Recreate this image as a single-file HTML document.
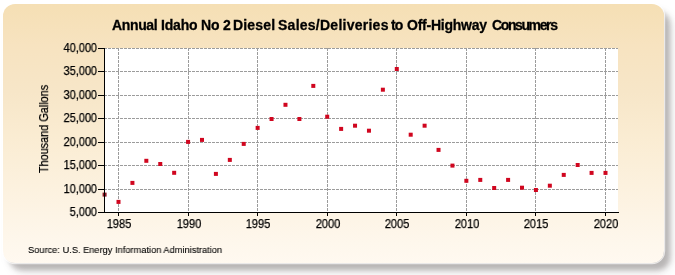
<!DOCTYPE html>
<html><head><meta charset="utf-8"><style>
.tw,.yl,.xl,.ylab span,.src{will-change:transform;}
.yl,.xl,.ylab span{-webkit-text-stroke:0.25px #000;color:#000 !important;}
html,body{margin:0;padding:0;width:675px;height:275px;overflow:hidden;background:#fff;position:relative;font-family:"Liberation Sans",sans-serif;}
#panel{position:absolute;left:3px;top:3.8px;width:661px;height:259.7px;border-radius:12px;
background:linear-gradient(180deg,#f5dfb4 0%,#f7e3c0 16%,#f7e6c8 34%,#faecd2 51%,#fcf1de 70%,#fef7ec 92%,#fff9f0 100%);filter:blur(0.7px);box-shadow:0 0 0 1.2px rgba(255,255,255,0.7);}
#shadow{position:absolute;left:9px;top:10.5px;width:661px;height:259px;border-radius:13px;background:rgba(40,35,30,0.24);filter:blur(2.5px);}
#shadow2{position:absolute;left:10px;top:12px;width:662px;height:261px;border-radius:16px;background:rgba(40,35,40,0.12);filter:blur(5px);}
.tw{position:absolute;top:15px;line-height:20px;font-weight:bold;font-size:14px;color:#000;-webkit-text-stroke:0.3px #000;white-space:nowrap;transform-origin:0 0;}
.yl{position:absolute;left:40px;width:57px;text-align:right;font-size:12px;line-height:15px;color:#111;transform:scaleX(0.91);transform-origin:100% 50%;}
.xl{position:absolute;top:216.8px;width:40px;text-align:center;font-size:12px;line-height:15px;color:#111;transform:scaleX(0.92);transform-origin:50% 50%;}
.ylab{position:absolute;left:43.7px;top:128.6px;width:0;height:0;}
.ylab span{position:absolute;left:0;top:0;transform:translate(-50%,-50%) rotate(-90deg) scaleX(0.905);white-space:nowrap;font-size:12px;color:#111;}
.src{position:absolute;left:28.2px;top:240px;line-height:20px;font-size:9.5px;color:#000;-webkit-text-stroke:0.12px #000;white-space:nowrap;transform:scaleX(0.975);transform-origin:0 0;}
svg{position:absolute;left:0;top:0;}
</style></head><body>
<div id="shadow2"></div><div id="shadow"></div><div id="panel"></div>
<svg width="675" height="275">
<rect x="104" y="48" width="514" height="164" fill="#fff"/>
<g stroke="#9c9c9c" stroke-width="1" stroke-dasharray="3,1" shape-rendering="crispEdges">
<line x1="104" y1="189.5" x2="618" y2="189.5"/><line x1="104" y1="165.5" x2="618" y2="165.5"/><line x1="104" y1="142.5" x2="618" y2="142.5"/><line x1="104" y1="118.5" x2="618" y2="118.5"/><line x1="104" y1="95.5" x2="618" y2="95.5"/><line x1="104" y1="71.5" x2="618" y2="71.5"/><line x1="104" y1="48.5" x2="618" y2="48.5"/><line x1="118.5" y1="48" x2="118.5" y2="212"/><line x1="188.5" y1="48" x2="188.5" y2="212"/><line x1="257.5" y1="48" x2="257.5" y2="212"/><line x1="327.5" y1="48" x2="327.5" y2="212"/><line x1="396.5" y1="48" x2="396.5" y2="212"/><line x1="466.5" y1="48" x2="466.5" y2="212"/><line x1="535.5" y1="48" x2="535.5" y2="212"/><line x1="605.5" y1="48" x2="605.5" y2="212"/>
</g>
<g fill="#d0061f"><rect x="102.59" y="192.60" width="4.0" height="4.0" fill="#8c1722"/><rect x="116.50" y="199.90" width="4.0" height="4.0"/><rect x="130.42" y="180.90" width="4.0" height="4.0"/><rect x="144.33" y="158.80" width="4.0" height="4.0"/><rect x="158.25" y="162.00" width="4.0" height="4.0"/><rect x="172.16" y="170.80" width="4.0" height="4.0"/><rect x="186.07" y="139.90" width="4.0" height="4.0"/><rect x="199.99" y="137.90" width="4.0" height="4.0"/><rect x="213.90" y="171.90" width="4.0" height="4.0"/><rect x="227.82" y="157.90" width="4.0" height="4.0"/><rect x="241.73" y="141.90" width="4.0" height="4.0"/><rect x="255.64" y="125.90" width="4.0" height="4.0"/><rect x="269.56" y="117.00" width="4.0" height="4.0"/><rect x="283.47" y="102.80" width="4.0" height="4.0"/><rect x="297.39" y="117.00" width="4.0" height="4.0"/><rect x="311.30" y="83.90" width="4.0" height="4.0"/><rect x="325.21" y="114.70" width="4.0" height="4.0"/><rect x="339.13" y="126.90" width="4.0" height="4.0"/><rect x="353.04" y="123.70" width="4.0" height="4.0"/><rect x="366.96" y="128.70" width="4.0" height="4.0"/><rect x="380.87" y="87.70" width="4.0" height="4.0"/><rect x="394.78" y="67.00" width="4.0" height="4.0"/><rect x="408.70" y="132.70" width="4.0" height="4.0"/><rect x="422.61" y="123.70" width="4.0" height="4.0"/><rect x="436.53" y="147.90" width="4.0" height="4.0"/><rect x="450.44" y="163.60" width="4.0" height="4.0"/><rect x="464.35" y="178.80" width="4.0" height="4.0"/><rect x="478.27" y="177.90" width="4.0" height="4.0"/><rect x="492.18" y="186.00" width="4.0" height="4.0"/><rect x="506.10" y="177.90" width="4.0" height="4.0"/><rect x="520.01" y="185.70" width="4.0" height="4.0"/><rect x="533.92" y="188.00" width="4.0" height="4.0"/><rect x="547.84" y="183.70" width="4.0" height="4.0"/><rect x="561.75" y="172.90" width="4.0" height="4.0"/><rect x="575.67" y="163.00" width="4.0" height="4.0"/><rect x="589.58" y="170.90" width="4.0" height="4.0"/><rect x="603.49" y="170.90" width="4.0" height="4.0"/></g>
<g stroke="#000" stroke-width="1" shape-rendering="crispEdges">
<line x1="104.5" y1="48" x2="104.5" y2="213"/>
<line x1="104" y1="212.5" x2="619" y2="212.5"/>
<line x1="98" y1="212.5" x2="104" y2="212.5"/><line x1="98" y1="189.5" x2="104" y2="189.5"/><line x1="98" y1="165.5" x2="104" y2="165.5"/><line x1="98" y1="142.5" x2="104" y2="142.5"/><line x1="98" y1="118.5" x2="104" y2="118.5"/><line x1="98" y1="95.5" x2="104" y2="95.5"/><line x1="98" y1="71.5" x2="104" y2="71.5"/><line x1="98" y1="48.5" x2="104" y2="48.5"/><line x1="118.5" y1="212" x2="118.5" y2="216"/><line x1="188.5" y1="212" x2="188.5" y2="216"/><line x1="257.5" y1="212" x2="257.5" y2="216"/><line x1="327.5" y1="212" x2="327.5" y2="216"/><line x1="396.5" y1="212" x2="396.5" y2="216"/><line x1="466.5" y1="212" x2="466.5" y2="216"/><line x1="535.5" y1="212" x2="535.5" y2="216"/><line x1="605.5" y1="212" x2="605.5" y2="216"/>
</g>
</svg>
<span class="tw" style="left:112.10px;letter-spacing:-0.360px">Annual</span><span class="tw" style="left:161.40px;letter-spacing:-0.175px">Idaho</span><span class="tw" style="left:201.10px;letter-spacing:-0.100px">No</span><span class="tw" style="left:222.90px;letter-spacing:0.000px">2</span><span class="tw" style="left:233.10px;letter-spacing:0.180px">Diesel</span><span class="tw" style="left:277.70px;letter-spacing:0.253px">Sales/Deliveries</span><span class="tw" style="left:391.00px;letter-spacing:-0.800px">to</span><span class="tw" style="left:406.90px;letter-spacing:-0.240px">Off-Highway</span><span class="tw" style="left:492.00px;letter-spacing:-1.388px">Consumers</span>
<div class="yl" style="top:204.7px">5,000</div><div class="yl" style="top:181.7px">10,000</div><div class="yl" style="top:157.7px">15,000</div><div class="yl" style="top:134.7px">20,000</div><div class="yl" style="top:110.7px">25,000</div><div class="yl" style="top:87.7px">30,000</div><div class="yl" style="top:63.7px">35,000</div><div class="yl" style="top:40.7px">40,000</div>
<div class="xl" style="left:98.5px">1985</div><div class="xl" style="left:168.5px">1990</div><div class="xl" style="left:237.5px">1995</div><div class="xl" style="left:307.5px">2000</div><div class="xl" style="left:376.5px">2005</div><div class="xl" style="left:446.5px">2010</div><div class="xl" style="left:515.5px">2015</div><div class="xl" style="left:585.5px">2020</div>
<div class="ylab"><span>Thousand Gallons</span></div>
<div class="src">Source: U.S. Energy Information Administration</div>
</body></html>
